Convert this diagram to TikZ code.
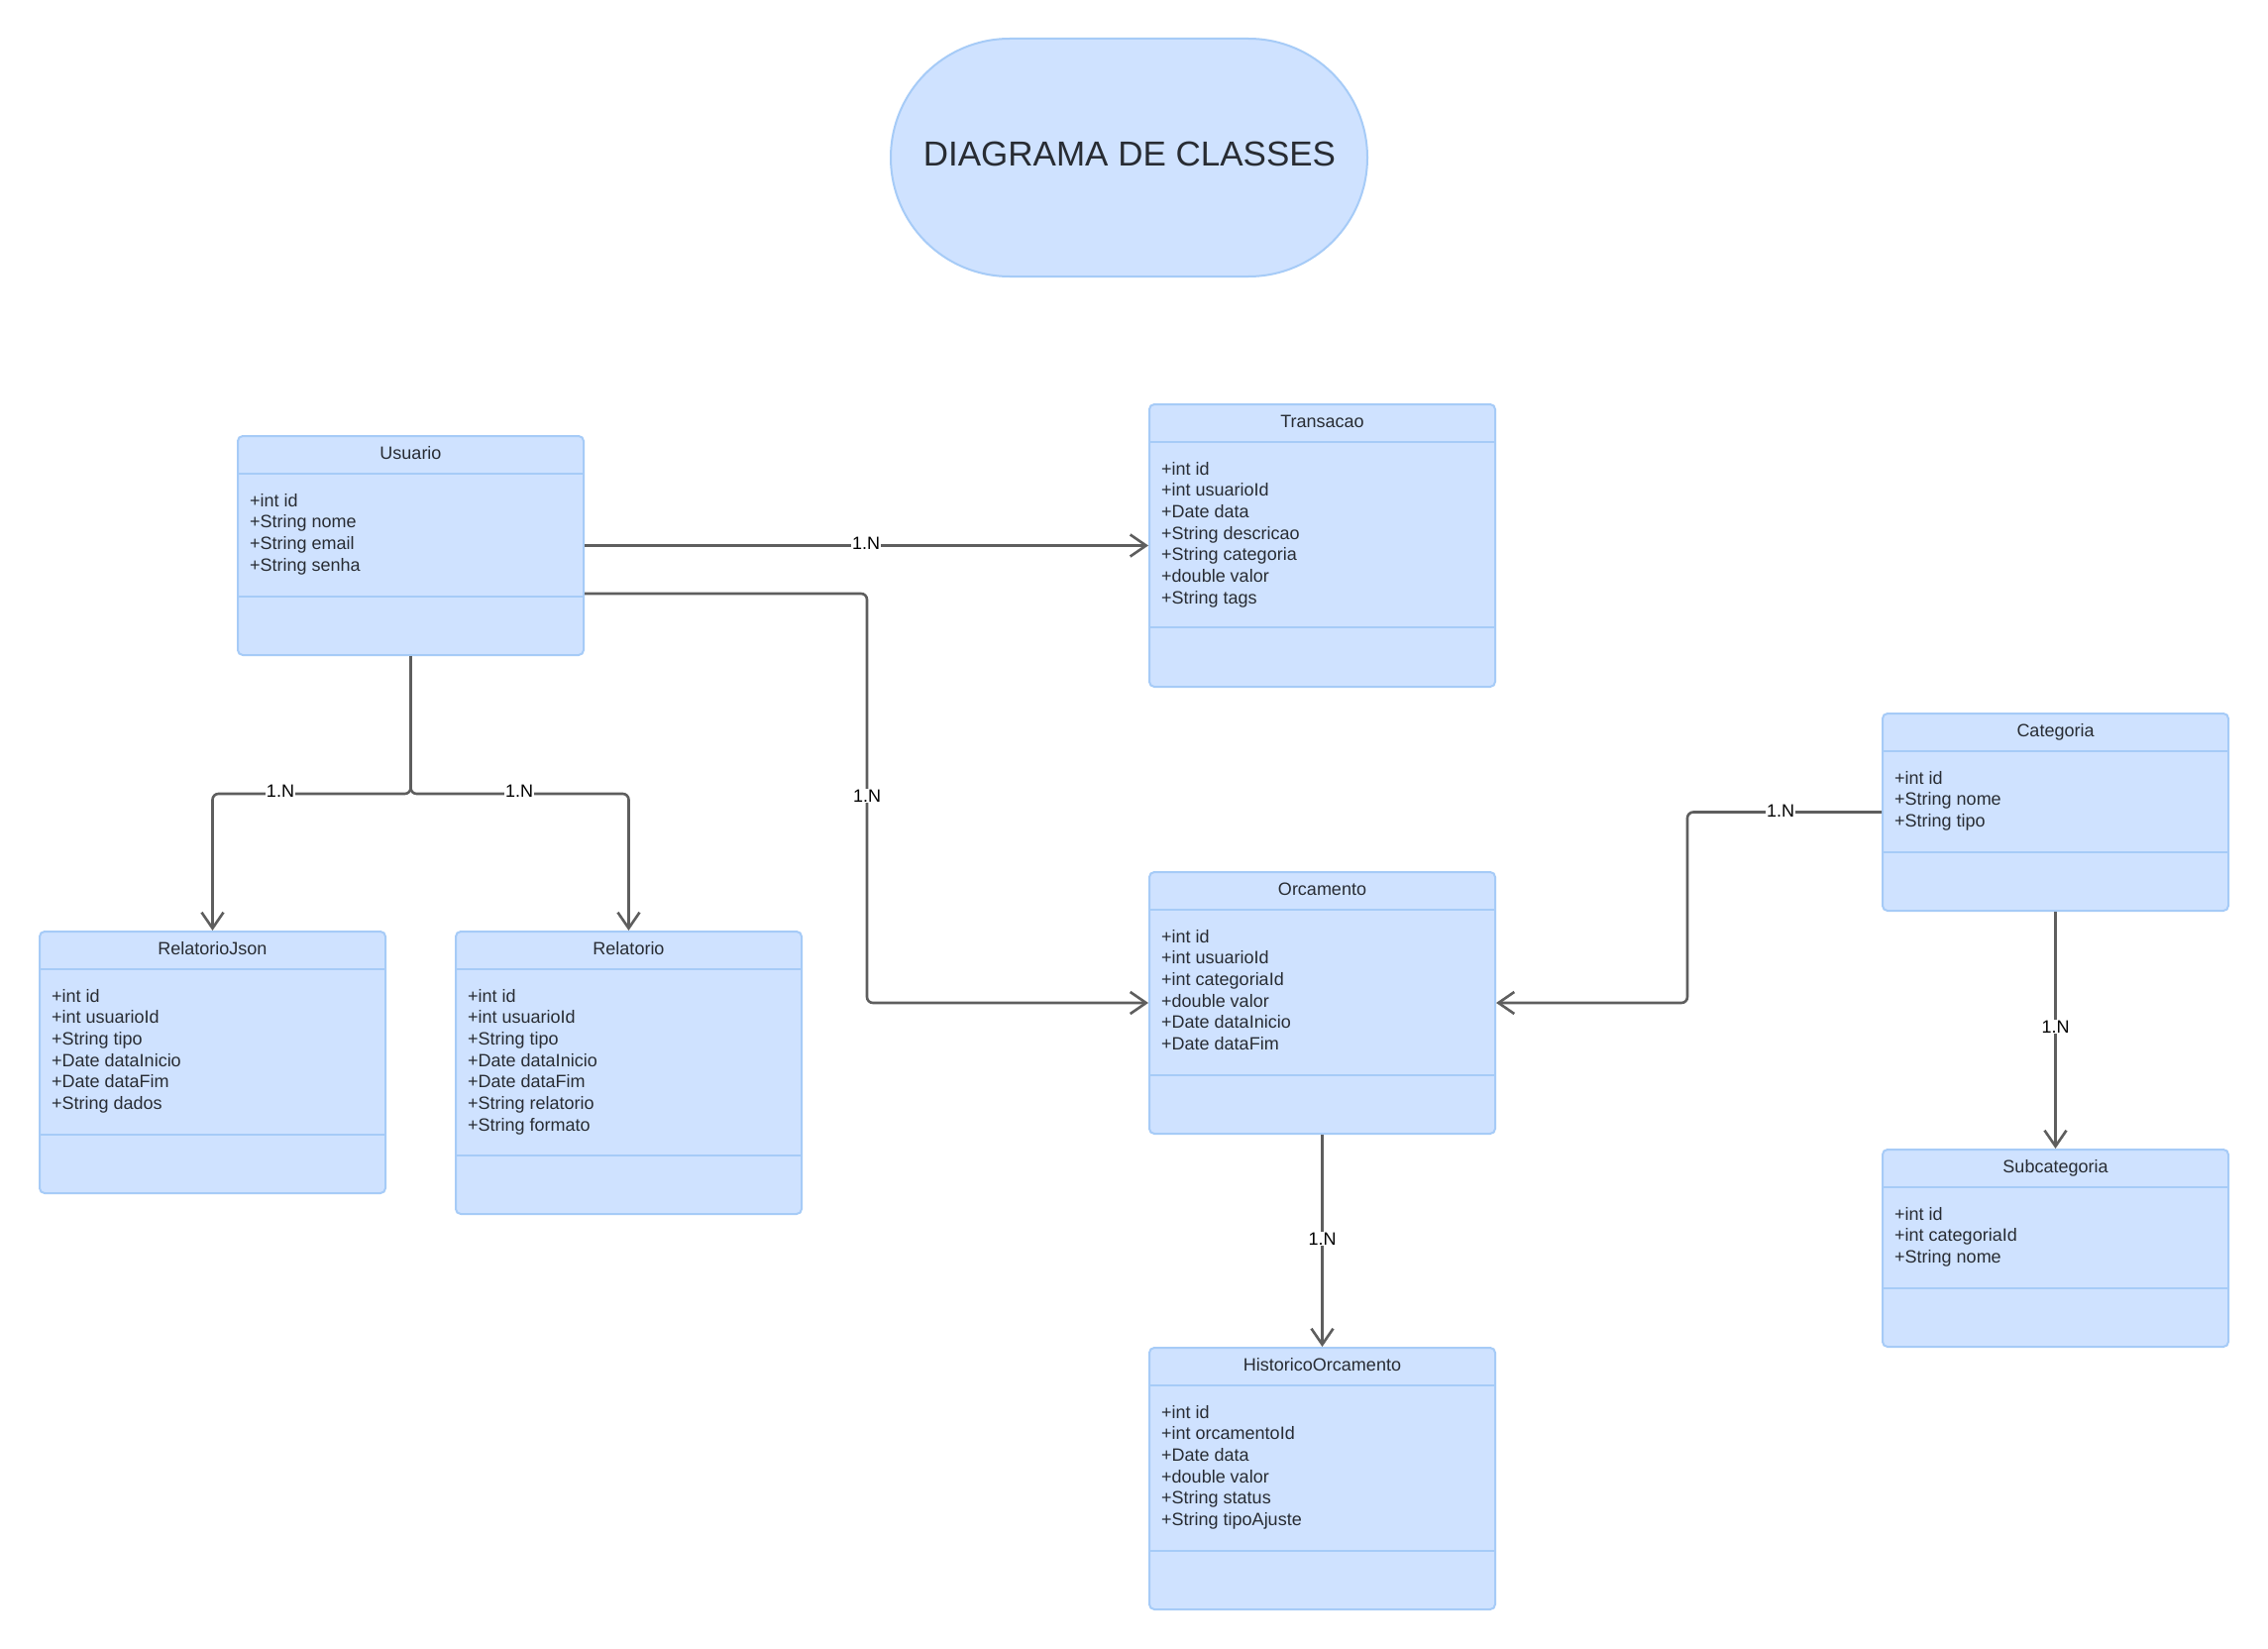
\documentclass[tikz,border=0pt]{standalone}
\usepackage{fontspec}
\setmainfont{Liberation Sans}
\usetikzlibrary{arrows.meta,calc}
\definecolor{boxfill}{HTML}{CFE2FF}
\definecolor{boxline}{HTML}{A6CBF7}
\definecolor{txtc}{HTML}{282C33}
\definecolor{connc}{HTML}{5E5E5E}
\tikzset{
  clsbox/.style={draw=boxline, fill=boxfill, line width=2pt, rounded corners=5pt, inner sep=0pt},
  sepline/.style={draw=boxline, line width=2pt},
  clstitle/.style={anchor=base, text=txtc, font=\fontsize{18}{21.7}\selectfont, inner sep=0pt},
  attrtxt/.style={anchor=base west, text=txtc, font=\fontsize{18}{21.7}\selectfont, inner sep=0pt},
  connector/.style={draw=connc, line width=2.6pt, rounded corners=6pt, -{Straight Barb[length=16pt,width=22pt]}},
  lbl/.style={fill=white, text=black, font=\fontsize{18}{21}\selectfont, inner sep=1pt},
  titleshape/.style={draw=boxline, fill=boxfill, line width=2pt, rounded corners=120pt, minimum width=481pt, minimum height=240pt, inner sep=0pt},
}
\newcommand\umlcls[9]{%
  \node[clsbox, minimum width={(#4-#2)*1pt}, minimum height={(#5-#3)*1pt}] (#1) at ({(#2+#4)/2},{(#3+#5)/2}) {};
  \draw[sepline] (#2,#6) -- (#4,#6);
  \draw[sepline] (#2,#7) -- (#4,#7);
  \node[clstitle] (#1-title) at ({(#2+#4)/2},{#6-15}) {#8};
  \foreach \ln [count=\i] in {#9} {\node[attrtxt] (#1-a\i) at ({#2+12},{#6+33+(\i-1)*21.7}) {\ln};}
}
\begin{document}
\begin{tikzpicture}[x=1pt,y=-1pt]
\useasboundingbox (0,0) rectangle (2289,1664);
\fill[white] (0,0) rectangle (2289,1664);

\node[titleshape] (title) at (1139.5,159) {};
\node[text=txtc, font=\fontsize{35}{42}\selectfont, inner sep=0pt] (titletext) at (1140,155) {DIAGRAMA DE CLASSES};

\umlcls{usuario}{240}{440}{589}{661}{478}{602}{Usuario}{+int id,+String nome,+String email,+String senha}
\umlcls{transacao}{1160}{408}{1509}{693}{446}{633}{Transacao}{+int id,+int usuarioId,+Date data,+String descricao,+String categoria,+double valor,+String tags}
\umlcls{categoria}{1900}{720}{2249}{919}{758}{860}{Categoria}{+int id,+String nome,+String tipo}
\umlcls{orcamento}{1160}{880}{1509}{1144}{918}{1085}{Orcamento}{+int id,+int usuarioId,+int categoriaId,+double valor,+Date dataInicio,+Date dataFim}
\umlcls{relatoriojson}{40}{940}{389}{1204}{978}{1145}{RelatorioJson}{+int id,+int usuarioId,+String tipo,+Date dataInicio,+Date dataFim,+String dados}
\umlcls{relatorio}{460}{940}{809}{1225}{978}{1166}{Relatorio}{+int id,+int usuarioId,+String tipo,+Date dataInicio,+Date dataFim,+String relatorio,+String formato}
\umlcls{historico}{1160}{1360}{1509}{1624}{1398}{1565}{HistoricoOrcamento}{+int id,+int orcamentoId,+Date data,+double valor,+String status,+String tipoAjuste}
\umlcls{subcategoria}{1900}{1160}{2249}{1359}{1198}{1300}{Subcategoria}{+int id,+int categoriaId,+String nome}

\draw[connector] (usuario.east) -- (transacao.west);
\node[lbl] (l1) at (874,548) {1.N};

\draw[connector] (usuario.east |- 0,599) -- (875,599) -- (875,1012) -- (orcamento.west);
\node[lbl] (l2) at (875,803) {1.N};

\draw[connector] (usuario.south) -- (414.5,801) -- (214.5,801) -- (relatoriojson.north);
\node[lbl] (l3) at (283,798) {1.N};

\draw[connector] (usuario.south) -- (414.5,801) -- (634.5,801) -- (relatorio.north);
\node[lbl] (l4) at (524,798) {1.N};

\draw[connector] (categoria.west) -- (1703,819.5) -- (1703,1012) -- (orcamento.east);
\node[lbl] (l5) at (1797,818) {1.N};

\draw[connector] (categoria.south) -- (subcategoria.north);
\node[lbl] (l6) at (2074.5,1036) {1.N};

\draw[connector] (orcamento.south) -- (historico.north);
\node[lbl] (l7) at (1334.5,1250) {1.N};
\end{tikzpicture}
\end{document}
